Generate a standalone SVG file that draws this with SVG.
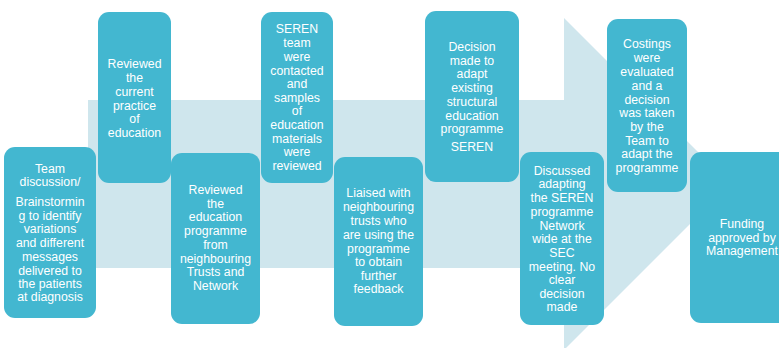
<svg xmlns="http://www.w3.org/2000/svg" width="779" height="348" viewBox="0 0 779 348">
<style>
.bg{fill:#cfe6ed}
.box{fill:#43b7d0}
.t{font-family:"Liberation Sans",Arial,sans-serif;font-size:12.3px;fill:#ffffff;text-anchor:middle}
</style>
<rect width="779" height="348" fill="#ffffff"/>
<g id="connectors">
<path class="bg" d="M88,100 H564 V18 L730,184 L564,350 V268 H88 Z"/>
</g>
<g id="n1">
<rect class="box" x="4" y="147" width="92" height="171" rx="11"/>
<text class="t"><tspan x="50" y="173">Team</tspan><tspan x="50" y="186">discussion/</tspan><tspan x="50" y="206">Brainstormin</tspan><tspan x="50" y="219.5">g to identify</tspan><tspan x="50" y="233">variations</tspan><tspan x="50" y="247">and different</tspan><tspan x="50" y="261">messages</tspan><tspan x="50" y="274.5">delivered to</tspan><tspan x="50" y="288">the patients</tspan><tspan x="50" y="301">at diagnosis</tspan></text>
</g>
<g id="n2">
<rect class="box" x="98" y="12" width="73" height="171" rx="11"/>
<text class="t"><tspan x="134.5" y="68">Reviewed</tspan><tspan x="134.5" y="82">the</tspan><tspan x="134.5" y="95.5">current</tspan><tspan x="134.5" y="109.5">practice</tspan><tspan x="134.5" y="123">of</tspan><tspan x="134.5" y="137">education</tspan></text>
</g>
<g id="n3">
<rect class="box" x="171" y="153" width="89" height="171" rx="11"/>
<text class="t"><tspan x="215.5" y="194">Reviewed</tspan><tspan x="215.5" y="207.5">the</tspan><tspan x="215.5" y="221">education</tspan><tspan x="215.5" y="235">programme</tspan><tspan x="215.5" y="249">from</tspan><tspan x="215.5" y="263">neighbouring</tspan><tspan x="215.5" y="276">Trusts and</tspan><tspan x="215.5" y="290">Network</tspan></text>
</g>
<g id="n4">
<rect class="box" x="261" y="12" width="72" height="171" rx="11"/>
<text class="t"><tspan x="297" y="33">SEREN</tspan><tspan x="297" y="47">team</tspan><tspan x="297" y="60.5">were</tspan><tspan x="297" y="74.5">contacted</tspan><tspan x="297" y="88">and</tspan><tspan x="297" y="102">samples</tspan><tspan x="297" y="115">of</tspan><tspan x="297" y="129">education</tspan><tspan x="297" y="142.5">materials</tspan><tspan x="297" y="156">were</tspan><tspan x="297" y="169.5">reviewed</tspan></text>
</g>
<g id="n5">
<rect class="box" x="334" y="157" width="89" height="169" rx="11"/>
<text class="t"><tspan x="378.5" y="197">Liaised with</tspan><tspan x="378.5" y="211">neighbouring</tspan><tspan x="378.5" y="225">trusts who</tspan><tspan x="378.5" y="238.5">are using the</tspan><tspan x="378.5" y="252.5">programme</tspan><tspan x="378.5" y="266">to obtain</tspan><tspan x="378.5" y="280">further</tspan><tspan x="378.5" y="293">feedback</tspan></text>
</g>
<g id="n6">
<rect class="box" x="425" y="11" width="94" height="171" rx="11"/>
<text class="t"><tspan x="472" y="50.5">Decision</tspan><tspan x="472" y="64.5">made to</tspan><tspan x="472" y="78">adapt</tspan><tspan x="472" y="92">existing</tspan><tspan x="472" y="105.5">structural</tspan><tspan x="472" y="119.5">education</tspan><tspan x="472" y="133">programme</tspan><tspan x="472" y="151">SEREN</tspan></text>
</g>
<g id="n7">
<rect class="box" x="520" y="152" width="84" height="173" rx="11"/>
<text class="t"><tspan x="562" y="174.5">Discussed</tspan><tspan x="562" y="188">adapting</tspan><tspan x="562" y="202">the SEREN</tspan><tspan x="562" y="215.5">programme</tspan><tspan x="562" y="229.5">Network</tspan><tspan x="562" y="243">wide at the</tspan><tspan x="562" y="257">SEC</tspan><tspan x="562" y="270.5">meeting. No</tspan><tspan x="562" y="284">clear</tspan><tspan x="562" y="297.5">decision</tspan><tspan x="562" y="311">made</tspan></text>
</g>
<g id="n8">
<rect class="box" x="607" y="19" width="80" height="173" rx="11"/>
<text class="t"><tspan x="647" y="48">Costings</tspan><tspan x="647" y="62">were</tspan><tspan x="647" y="75.5">evaluated</tspan><tspan x="647" y="89.5">and a</tspan><tspan x="647" y="103.5">decision</tspan><tspan x="647" y="117">was taken</tspan><tspan x="647" y="130.5">by the</tspan><tspan x="647" y="144.5">Team to</tspan><tspan x="647" y="158">adapt the</tspan><tspan x="647" y="171.5">programme</tspan></text>
</g>
<g id="n9">
<rect class="box" x="690" y="152" width="104" height="171" rx="11"/>
<text class="t"><tspan x="742" y="228">Funding</tspan><tspan x="742" y="241.5">approved by</tspan><tspan x="742" y="255">Management</tspan></text>
</g>
</svg>
